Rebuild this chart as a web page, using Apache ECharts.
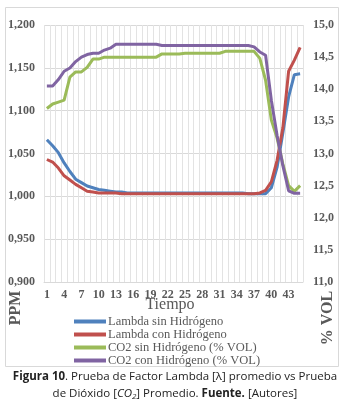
<!DOCTYPE html>
<html>
<head>
<meta charset="utf-8">
<script src="https://cdn.jsdelivr.net/npm/echarts@6/dist/echarts.min.js"></script>
<style>
  html, body { margin: 0; padding: 0; background: #fff; }
  #chart { width: 350px; height: 410px; }
</style>
</head>
<body>
<div id="chart"></div>
<script>
// time steps 1..45
const tiempo = [];
for (let i = 1; i <= 45; i++) tiempo.push(String(i));

// Lambda (left axis, PPM)
const lambdaSin = [1.066, 1.059, 1.051, 1.039, 1.029, 1.020, 1.016, 1.012, 1.010, 1.008,
                   1.007, 1.006, 1.005, 1.005, 1.004, 1.004, 1.004, 1.004, 1.004, 1.004,
                   1.004, 1.004, 1.004, 1.004, 1.004, 1.004, 1.004, 1.004, 1.004, 1.004,
                   1.004, 1.004, 1.004, 1.004, 1.004, 1.003, 1.003, 1.003, 1.003, 1.010,
                   1.034, 1.074, 1.116, 1.142, 1.143];
const lambdaCon = [1.043, 1.040, 1.033, 1.024, 1.019, 1.014, 1.010, 1.006, 1.005, 1.004,
                   1.004, 1.004, 1.004, 1.003, 1.003, 1.003, 1.003, 1.003, 1.003, 1.003,
                   1.003, 1.003, 1.003, 1.003, 1.003, 1.003, 1.003, 1.003, 1.003, 1.003,
                   1.003, 1.003, 1.003, 1.003, 1.003, 1.003, 1.003, 1.004, 1.007, 1.017,
                   1.042, 1.080, 1.146, 1.159, 1.174];

// CO2 (right axis, % VOL)
const co2Sin = [13.70, 13.77, 13.80, 13.83, 14.19, 14.27, 14.27, 14.34, 14.47, 14.47,
                14.50, 14.50, 14.50, 14.50, 14.50, 14.50, 14.50, 14.50, 14.50, 14.50,
                14.55, 14.55, 14.55, 14.55, 14.56, 14.56, 14.56, 14.56, 14.56, 14.56,
                14.56, 14.59, 14.59, 14.59, 14.59, 14.59, 14.59, 14.48, 14.14, 13.52,
                13.24, 12.84, 12.50, 12.41, 12.50];
const co2Con = [14.05, 14.05, 14.15, 14.28, 14.33, 14.43, 14.50, 14.54, 14.56, 14.56,
                14.61, 14.64, 14.70, 14.70, 14.70, 14.70, 14.70, 14.70, 14.70, 14.70,
                14.68, 14.68, 14.68, 14.68, 14.68, 14.68, 14.68, 14.68, 14.68, 14.68,
                14.68, 14.68, 14.68, 14.68, 14.68, 14.68, 14.66, 14.58, 14.53, 13.83,
                13.28, 12.81, 12.42, 12.38, 12.38];

const serif = 'Liberation Serif';
const grey = '#595959';

let chart = echarts.init(document.getElementById('chart'));

function comma(v, d) {
    return v.toFixed(d).replace('.', ',');
}

function line(name, data, color, axis) {
    return {
        name: name,
        type: 'line',
        yAxisIndex: axis,
        data: data,
        symbol: 'none',
        lineStyle: { color: color, width: 3 },
        itemStyle: { color: color }
    };
}

let option = {
    animation: false,
    grid: { left: 44, right: 47, top: 25, bottom: 128 },
    legend: {
        orient: 'vertical',
        left: 69,
        top: 310,
        icon: 'rect',
        itemWidth: 32,
        itemHeight: 4,
        itemGap: 0,
        textStyle: { fontFamily: serif, fontSize: 12.5, color: grey, lineHeight: 12, padding: [0, 0, 0, -3] },
        data: ['Lambda sin Hidrógeno', 'Lambda con Hidrógeno',
               'CO2 sin Hidrógeno (% VOL)', 'CO2 con Hidrógeno (% VOL)']
    },
    xAxis: {
        type: 'category',
        data: tiempo,
        boundaryGap: true,
        axisLine: { lineStyle: { color: '#d9d9d9' } },
        axisTick: { show: false },
        axisLabel: { interval: 2, margin: 7, fontFamily: serif, fontSize: 12, fontWeight: 'bold', color: grey },
        splitLine: { show: true, interval: 0, lineStyle: { color: '#e3e3e3' } }
    },
    yAxis: [
        {
            type: 'value',
            min: 0.9,
            max: 1.2,
            interval: 0.05,
            axisLine: { show: false },
            axisTick: { show: false },
            axisLabel: {
                margin: 9,
                fontFamily: serif, fontSize: 12, fontWeight: 'bold', color: grey,
                formatter: v => comma(v, 3)
            },
            splitLine: { lineStyle: { color: '#d9d9d9' } }
        },
        {
            type: 'value',
            min: 11,
            max: 15,
            interval: 0.5,
            axisLine: { show: false },
            axisTick: { show: false },
            axisLabel: {
                margin: 10,
                fontFamily: serif, fontSize: 12, fontWeight: 'bold', color: grey,
                formatter: v => comma(v, 1)
            },
            splitLine: { show: false }
        }
    ],
    graphic: [
        {
            type: 'rect',
            shape: { x: 5.5, y: 7.5, width: 333, height: 359 },
            style: { fill: 'none', stroke: '#d9d9d9', lineWidth: 1 },
            z: -1
        },
        {
            type: 'text',
            x: 170, y: 305,
            style: { text: 'Tiempo', fontFamily: serif, fontSize: 16, fill: grey,
                     align: 'center', verticalAlign: 'middle' }
        },
        {
            type: 'text',
            x: 16, y: 308,
            rotation: Math.PI / 2,
            style: { text: 'PPM', fontFamily: serif, fontSize: 16, fontWeight: 'bold', fill: grey,
                     align: 'center', verticalAlign: 'middle' }
        },
        {
            type: 'text',
            x: 328, y: 318,
            rotation: Math.PI / 2,
            style: { text: '% VOL', fontFamily: serif, fontSize: 16, fontWeight: 'bold', fill: grey,
                     align: 'center', verticalAlign: 'middle' }
        },
        {
            type: 'text',
            x: 175, y: 377,
            style: {
                text: '{b|Figura 10}. Prueba de Factor Lambda [λ] promedio vs Prueba',
                fontFamily: 'Open Sans', fontSize: 11.5, fill: '#222',
                align: 'center', verticalAlign: 'middle',
                rich: { b: { fontFamily: 'Open Sans', fontSize: 11.5, fontWeight: 'bold', fill: '#222' } }
            }
        },
        {
            type: 'text',
            x: 175, y: 394,
            style: {
                text: 'de Dióxido [{i|CO}{s|2}] Promedio. {b|Fuente.} [Autores]',
                fontFamily: 'Open Sans', fontSize: 11.5, fill: '#222',
                align: 'center', verticalAlign: 'middle',
                rich: {
                    b: { fontFamily: 'Open Sans', fontSize: 11.5, fontWeight: 'bold', fill: '#222' },
                    i: { fontFamily: 'Open Sans', fontSize: 11.5, fontStyle: 'italic', fill: '#222' },
                    s: { fontFamily: 'Open Sans', fontSize: 8, fontStyle: 'italic', fill: '#222', padding: [6, 0, 0, 0] }
                }
            }
        }
    ],
    series: [
        line('Lambda sin Hidrógeno', lambdaSin, '#4F81BD', 0),
        line('Lambda con Hidrógeno', lambdaCon, '#C0504D', 0),
        line('CO2 sin Hidrógeno (% VOL)', co2Sin, '#9BBB59', 1),
        line('CO2 con Hidrógeno (% VOL)', co2Con, '#8064A2', 1)
    ]
};

chart.setOption(option);
</script>
</body>
</html>
